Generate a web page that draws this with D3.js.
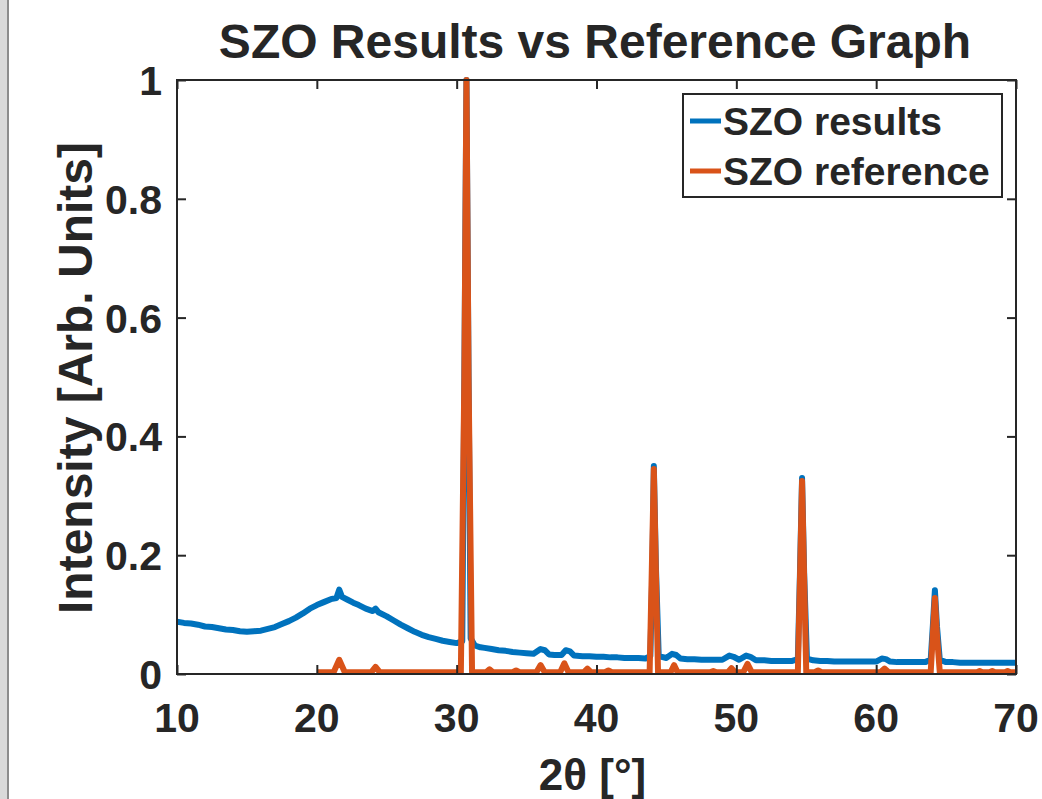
<!DOCTYPE html>
<html>
<head>
<meta charset="utf-8">
<script src="https://cdn.jsdelivr.net/npm/d3@7"></script>
<style>
  body { margin: 0; background: #fff; }
  text { font-family: "Liberation Sans", Arial, sans-serif; font-weight: bold; fill: #262626; }
</style>
</head>
<body>
<div id="chart"></div>
<script>
// measured results, [2theta, intensity]
const szoResults = [
  [10, .088], [10.5, .086], [11, .085], [11.5, .083], [12, .080], [12.5, .079], [13, .077], [13.5, .075],
  [14, .074], [14.5, .072], [15, .071], [15.5, .072], [16, .073], [16.5, .076], [17, .079], [17.5, .084],
  [18, .089], [18.5, .095], [19, .102], [19.5, .110], [20, .116], [20.5, .121], [21, .126], [21.4, .128],
  [21.6, .142], [21.8, .130], [22.2, .125], [22.6, .120], [23, .116], [23.5, .110], [24, .106], [24.2, .110],
  [24.4, .104], [25, .097], [25.5, .090], [26, .083], [26.5, .077], [27, .071], [27.5, .066], [28, .062],
  [28.5, .059], [29, .056], [29.5, .054], [30, .052], [30.4, .055], [30.55, .5], [30.7, 1.0], [30.85, .5],
  [31.0, .060], [31.3, .048], [31.7, .045], [32, .044], [32.5, .042], [33, .040], [33.5, .039], [34, .037],
  [34.5, .036], [35, .035], [35.5, .034], [36.0, .042], [36.3, .040], [36.6, .033], [37, .032], [37.5, .032],
  [37.8, .040], [38.1, .038], [38.4, .031], [39, .030], [39.5, .030], [40, .029], [40.5, .029], [41, .028],
  [41.5, .028], [42, .027], [42.5, .027], [43, .027], [43.5, .026], [43.85, .030], [44.0, .18], [44.1, .35],
  [44.25, .18], [44.45, .030], [45, .027], [45.4, .034], [45.7, .032], [46, .026], [46.5, .025], [47, .025],
  [47.5, .024], [48, .024], [48.5, .024], [49, .024], [49.5, .031], [49.8, .029], [50.2, .024], [50.7, .031],
  [51, .029], [51.4, .023], [52, .023], [52.5, .022], [53, .022], [53.5, .022], [54, .022], [54.4, .025],
  [54.55, .17], [54.7, .33], [54.85, .17], [55.05, .026], [55.5, .023], [56, .022], [56.5, .022], [57, .021],
  [57.5, .021], [58, .021], [58.5, .021], [59, .021], [59.5, .021], [60, .021], [60.4, .026], [60.7, .025],
  [61, .021], [61.5, .020], [62, .020], [62.5, .020], [63, .020], [63.5, .020], [63.9, .024], [64.05, .08],
  [64.2, .141], [64.35, .08], [64.55, .024], [65, .020], [65.5, .020], [66, .019], [66.5, .019], [67, .019],
  [67.5, .019], [68, .019], [68.5, .019], [69, .019], [69.5, .019], [70, .019]
]

// reference pattern, [2theta, intensity]
const szoReference = [
  [20, .003], [21.2, .003], [21.6, .024], [22.0, .003], [23.9, .003], [24.2, .012], [24.5, .003],
  [30.3, .003], [30.55, .5], [30.7, 1.0], [30.85, .5], [31.1, .003], [32.1, .003], [32.35, .008], [32.6, .003],
  [34.0, .003], [34.25, .006], [34.5, .003], [35.7, .003], [36.0, .015], [36.3, .003], [37.4, .003],
  [37.7, .018], [38.0, .003], [39.1, .003], [39.35, .009], [39.6, .003], [40.6, .003], [40.85, .006],
  [41.1, .003], [43.8, .003], [43.95, .17], [44.1, .345], [44.25, .17], [44.4, .003], [45.3, .003],
  [45.55, .015], [45.8, .003], [48.1, .003], [48.35, .005], [48.6, .003], [49.4, .003], [49.65, .010],
  [49.9, .003], [50.5, .003], [50.8, .017], [51.1, .003], [54.4, .003], [54.55, .16], [54.7, .325],
  [54.85, .16], [55.0, .003], [55.6, .003], [55.85, .006], [56.1, .003], [60.3, .003], [60.6, .009],
  [60.9, .003], [63.9, .003], [64.05, .065], [64.2, .128], [64.35, .065], [64.55, .003], [67.2, .003],
  [67.4, .005], [67.6, .003], [68.1, .003], [68.3, .005], [68.5, .003], [69.2, .003], [69.4, .005],
  [69.6, .003], [70, .003]
]

const xTicks = [10, 20, 30, 40, 50, 60, 70]
const yTicks = [0, 0.2, 0.4, 0.6, 0.8, 1]
const seriesNames = ['SZO results', 'SZO reference']
const seriesColors = ['#0072BD', '#D95319']

const W = 1042, H = 799
const margin = { top: 80, right: 26, bottom: 125, left: 177 }
const width = W - margin.left - margin.right
const height = H - margin.top - margin.bottom
const axisColor = '#262626'

const svg = d3.select('#chart').append('svg')
  .attr('width', W)
  .attr('height', H)

svg.append('rect').attr('width', W).attr('height', H).attr('fill', '#fff')
// grey window edge on the left
svg.append('rect').attr('x', 0).attr('y', 0).attr('width', 8).attr('height', H).attr('fill', '#d9d9d9')
svg.append('rect').attr('x', 7).attr('y', 0).attr('width', 2).attr('height', H).attr('fill', '#8c8c8c')

const xScale = d3.scaleLinear().domain([10, 70]).range([0, width])
const yScale = d3.scaleLinear().domain([0, 1]).range([height, 0])

const g = svg.append('g').attr('transform', `translate(${margin.left}, ${margin.top})`)

g.append('clipPath').attr('id', 'plotclip')
  .append('rect').attr('x', 0).attr('y', -4).attr('width', width).attr('height', height + 4)

const line = d3.line()
  .x(d => xScale(d[0]))
  .y(d => yScale(d[1]))

const plot = g.append('g').attr('clip-path', 'url(#plotclip)')
plot.append('path').datum(szoResults)
  .attr('d', line).attr('fill', 'none')
  .attr('stroke', seriesColors[0]).attr('stroke-width', 6)
  .attr('stroke-linejoin', 'round')
plot.append('path').datum(szoReference)
  .attr('d', line).attr('fill', 'none')
  .attr('stroke', seriesColors[1]).attr('stroke-width', 6)
  .attr('stroke-linejoin', 'round')

// axes: box with inward ticks on every side
const tickLen = 9
function styleAxis(sel) {
  sel.select('.domain').remove()
  sel.selectAll('.tick line').attr('stroke', axisColor).attr('stroke-width', 2)
}
g.append('g').attr('transform', `translate(0, ${height})`)
  .call(d3.axisBottom(xScale).tickValues(xTicks).tickSize(-tickLen).tickFormat(''))
  .call(styleAxis)
g.append('g')
  .call(d3.axisTop(xScale).tickValues(xTicks).tickSize(-tickLen).tickFormat(''))
  .call(styleAxis)
g.append('g')
  .call(d3.axisLeft(yScale).tickValues(yTicks).tickSize(-tickLen).tickFormat(''))
  .call(styleAxis)
g.append('g').attr('transform', `translate(${width}, 0)`)
  .call(d3.axisRight(yScale).tickValues(yTicks).tickSize(-tickLen).tickFormat(''))
  .call(styleAxis)

g.append('rect').attr('width', width).attr('height', height)
  .attr('fill', 'none').attr('stroke', axisColor).attr('stroke-width', 2)

// tick labels
g.selectAll('.xlab').data(xTicks).enter().append('text')
  .attr('x', d => xScale(d)).attr('y', height + 58)
  .attr('text-anchor', 'middle').style('font-size', '41px')
  .text(d => d)
g.selectAll('.ylab').data(yTicks).enter().append('text')
  .attr('x', -15).attr('y', d => yScale(d) + 15)
  .attr('text-anchor', 'end').style('font-size', '41px')
  .text(d => d)

// title and axis labels
svg.append('text').attr('x', 595).attr('y', 58)
  .attr('text-anchor', 'middle').style('font-size', '48px')
  .text('SZO Results vs Reference Graph')
svg.append('text').attr('x', margin.left + width / 2 - 4).attr('y', 790)
  .attr('text-anchor', 'middle').style('font-size', '44px')
  .text('2θ [°]')
svg.append('text')
  .attr('transform', `translate(92, ${margin.top + height / 2 + 1}) rotate(-90)`)
  .attr('text-anchor', 'middle').style('font-size', '48px')
  .text('Intensity [Arb. Units]')

// legend
const legend = svg.append('g')
legend.append('rect').attr('x', 683).attr('y', 94).attr('width', 319).attr('height', 103)
  .attr('fill', '#fff').attr('stroke', axisColor).attr('stroke-width', 2)
const rows = legend.selectAll('.row').data(seriesNames).enter().append('g')
  .attr('transform', (d, i) => `translate(0, ${121 + i * 50})`)
rows.append('line').attr('x1', 690).attr('x2', 721)
  .attr('stroke', (d, i) => seriesColors[i]).attr('stroke-width', 5)
rows.append('text').attr('x', 723).attr('y', 14)
  .style('font-size', '39px').text(d => d)
</script>
</body>
</html>
